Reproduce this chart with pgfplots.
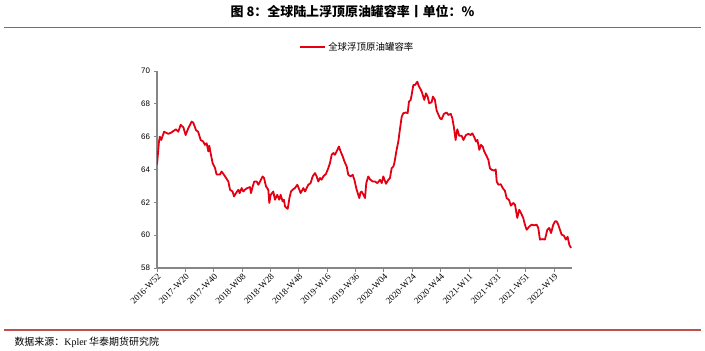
\documentclass[border=0pt]{standalone}
\usepackage{pgfplots}
\pgfplotsset{compat=1.18}
\usepackage{fontspec}
\setmainfont{Liberation Serif}
\newfontfamily\cjk{Noto Sans CJK SC}
\newfontfamily\arialf{Liberation Sans}
\newfontfamily\timesf{Liberation Serif}
\definecolor{hdr}{RGB}{192,80,77}
\definecolor{linered}{RGB}{228,0,18}
\definecolor{axgray}{RGB}{134,134,134}
\begin{document}
\begin{tikzpicture}
\useasboundingbox (0,0) rectangle (705bp,-351bp);
\node[font=\cjk\bfseries\fontsize{13}{15}\selectfont] at (352.5bp,-11bp) {图 8：全球陆上浮顶原油罐容率丨单位：\%};
\draw[hdr, line width=1.6bp] (4bp,-27.5bp) -- (701bp,-27.5bp);
\draw[hdr, line width=1.6bp] (4bp,-330bp) -- (701bp,-330bp);
\node[anchor=west, font=\cjk\fontsize{10}{12}\selectfont] at (11bp,-342bp) {数据来源：{\timesf Kpler} 华泰期货研究院};
\begin{axis}[
  at={(157bp,-268bp)}, anchor=south west,
  scale only axis, width=415bp, height=197bp,
  xmin=0, xmax=292.7, ymin=58, ymax=70,
  axis x line=bottom, axis y line=left,
  axis line style={-, axgray, line width=1.1bp},
  tick style={axgray, line width=0.8bp},
  major tick length=3.5bp,
  tick align=outside,
  ytick={58,60,...,70},
  xtick={0,20,...,280},
  xticklabels={2016-W52,2017-W20,2017-W40,2018-W08,2018-W28,2018-W48,2019-W16,2019-W36,2020-W04,2020-W24,2020-W44,2021-W11,2021-W31,2021-W51,2022-W19},
  xticklabel style={font=\timesf\fontsize{9}{10}\selectfont, rotate=45, anchor=north east, inner sep=1pt},
  yticklabel style={font=\arialf\fontsize{8}{9}\selectfont},
  /pgf/number format/assume math mode=true,
  legend style={at={(0.483,1.122)}, anchor=center, draw=none, fill=none, font=\cjk\fontsize{9.5}{11}\selectfont, inner sep=1pt},
  legend image code/.code={\draw[#1] (0bp,0bp) -- (25bp,0bp);},
]
\addplot[linered, line width=1.8bp, line join=round] coordinates {
(0,64.3) (1.4,65.7) (2,66.0) (3,65.8) (5,66.3) (8,66.17) (10,66.25) (13.4,66.45) (15,66.3) (16.7,66.72) (18.6,66.57) (20.2,66.1) (22,66.5) (24.4,66.92) (25.6,66.85) (27.5,66.4) (29,66.3) (30.8,65.8) (32.6,65.7) (33.8,65.5) (35,65.6) (36.2,65.1) (36.9,65.45) (37.6,65.1) (39.2,64.4) (40.9,64.1) (42,63.7) (44.4,63.7) (45.6,63.88) (47.2,63.68) (49,63.45) (50.3,63.27) (51.5,62.77) (53.3,62.66) (54.3,62.36) (55.7,62.56) (57.4,62.77) (58.3,62.56) (59.7,62.87) (60.9,62.66) (62,62.77) (63.7,62.87) (65.6,62.93) (66.3,62.56) (67.5,62.97) (68.6,63.27) (70.3,63.27) (71.5,63.07) (72.7,63.27) (74.5,63.58) (75.5,63.48) (76.9,62.97) (78.5,62.77) (79.2,61.96) (80.2,62.46) (82,62.66) (83.2,62.16) (84.8,62.46) (86.2,62.16) (87.2,62.46) (88.6,62.06) (89.5,62.16) (90.3,61.75) (92.2,61.6) (93.4,62.26) (94.5,62.66) (95.7,62.77) (97.3,62.87) (99,63.07) (100.4,62.77) (101.3,62.56) (103.2,62.87) (104.4,62.66) (106.7,63.07) (108.3,63.17) (109.8,63.58) (111.4,63.78) (112.6,63.58) (113.8,63.27) (115,63.48) (116.1,63.38) (117.3,63.58) (119.2,63.74) (120.8,64.08) (122,64.39) (123.2,64.9) (124.4,65.0) (125.5,64.9) (126.7,65.1) (128.3,65.4) (129.5,65.1) (131,64.79) (132.2,64.49) (133.8,64.18) (134.9,63.68) (136.6,63.58) (138,63.68) (139.2,63.38) (140.8,62.77) (142.7,62.26) (143.5,62.6) (144.3,62.66) (146,62.4) (146.7,62.26) (147.6,63.17) (149,63.58) (150.2,63.4) (152.1,63.27) (153.7,63.27) (155.4,63.17) (157.3,63.37) (158.5,63.17) (159.6,63.58) (161.5,63.13) (163.1,63.37) (164.3,63.48) (165.5,64.08) (166.7,64.18) (167.4,64.39) (169,65.2) (170.2,65.7) (171.4,66.5) (172.6,67.22) (173.7,67.43) (175.6,67.47) (176.8,67.43) (177.7,68.13) (178.9,68.24) (179.6,68.54) (180.8,69.15) (182,69.15) (183.6,69.35) (184.6,69.09) (185.5,68.95) (186.7,68.74) (188.5,68.24) (189.7,68.64) (190.9,68.44) (192,68.03) (193.7,68.1) (194.6,68.44) (196,68.24) (197.2,67.6) (199.6,67.12) (200.7,67.06) (202.4,67.39) (204.3,67.47) (205.5,67.32) (207.2,67.39) (208.3,67.12) (209.5,66.52) (210.6,65.8) (211.8,66.45) (213.2,66.05) (214.9,66.05) (216.1,65.8) (217.9,66.1) (219.6,66.17) (221.3,66.1) (222.4,66.2) (223.8,65.97) (225,65.7) (226,65.8) (227.3,65.2) (228.5,65.5) (229.7,65.4) (230.8,65.1) (232,64.9) (233.7,64.59) (234.8,64.08) (236,63.98) (237.7,63.94) (238.9,64.0) (239.6,63.27) (240.8,63.07) (242.5,63.1) (243.8,62.87) (245.4,62.7) (246.6,62.26) (248.3,62.14) (249.6,61.8) (251.3,61.96) (252.5,61.86) (254.1,61.05) (255.5,61.55) (256.7,61.35) (258.3,61.05) (259.5,60.64) (260.7,60.33) (262.6,60.53) (264.2,60.64) (265.9,60.6) (267.8,60.64) (268.9,60.44) (270.1,59.73) (272,59.76) (273.6,59.73) (275.3,60.33) (276.7,60.44) (277.9,60.13) (279.5,60.64) (280.7,60.84) (281.8,60.84) (283,60.64) (284.2,60.33) (285.4,60.03) (287,59.97) (288.4,59.73) (289.6,59.9) (290.8,59.42) (292,59.22)
};
\addlegendentry{全球浮顶原油罐容率}
\end{axis}
\end{tikzpicture}
\end{document}
